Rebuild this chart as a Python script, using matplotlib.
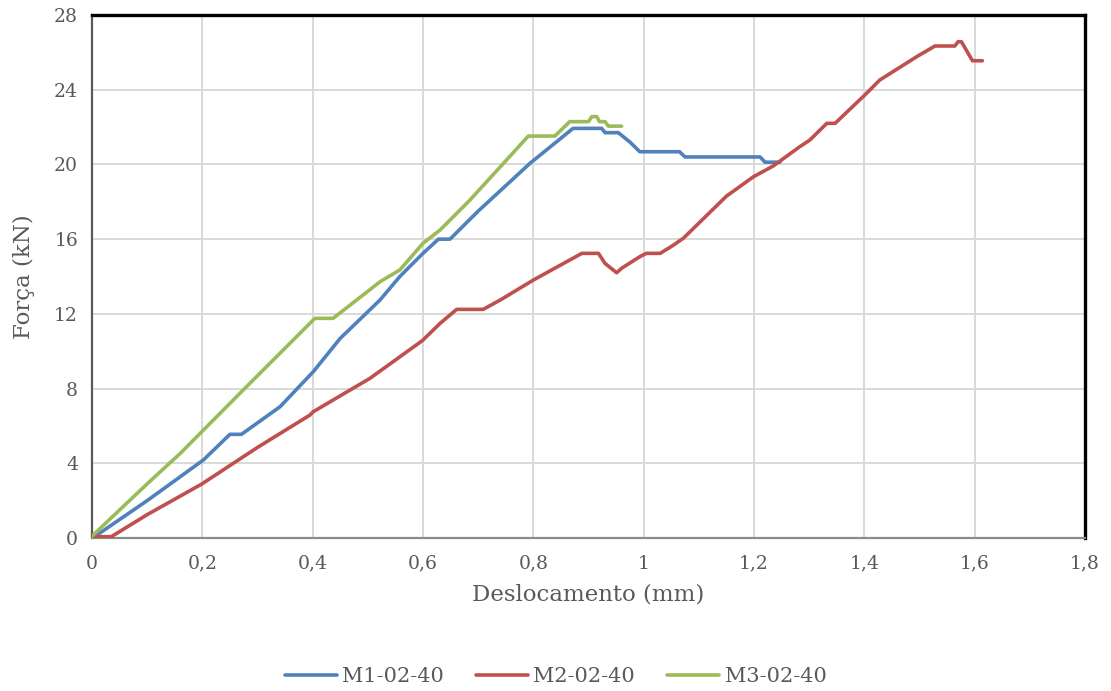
import matplotlib
matplotlib.use("Agg")
import matplotlib.pyplot as plt
from matplotlib.ticker import FuncFormatter

# Force-displacement curves (displacement in mm, force in kN)
m1_x = [0.0, 0.009, 0.10, 0.202, 0.250, 0.271, 0.341, 0.401, 0.450, 0.522, 0.558, 0.600,
        0.628, 0.649, 0.700, 0.794, 0.872, 0.924, 0.930, 0.954, 0.975, 0.993, 1.065,
        1.075, 1.211, 1.220, 1.247]
m1_y = [0.0, 0.16, 2.0, 4.18, 5.55, 5.55, 7.03, 8.90, 10.69, 12.74, 14.0, 15.24,
        16.0, 16.0, 17.5, 20.06, 21.93, 21.93, 21.7, 21.7, 21.2, 20.68, 20.68,
        20.40, 20.40, 20.12, 20.12]

m2_x = [0.0, 0.003, 0.035, 0.100, 0.199, 0.300, 0.395, 0.401, 0.504, 0.598, 0.600,
        0.631, 0.661, 0.709, 0.740, 0.800, 0.888, 0.918, 0.930, 0.951, 0.960, 0.993,
        1.005, 1.030, 1.054, 1.072, 1.150, 1.199, 1.235, 1.283, 1.301, 1.332, 1.347,
        1.401, 1.428, 1.495, 1.528, 1.564, 1.570, 1.576, 1.596, 1.614]
m2_y = [0.0, 0.07, 0.07, 1.25, 2.89, 4.85, 6.58, 6.76, 8.55, 10.55, 10.6,
        11.49, 12.24, 12.24, 12.74, 13.81, 15.24, 15.24, 14.7, 14.20, 14.44, 15.06,
        15.24, 15.24, 15.68, 16.05, 18.3, 19.34, 19.92, 20.95, 21.3, 22.2, 22.2,
        23.72, 24.52, 25.77, 26.34, 26.34, 26.57, 26.57, 25.55, 25.55]

m3_x = [0.0, 0.100, 0.160, 0.277, 0.401, 0.404, 0.437, 0.504, 0.522, 0.558,
        0.600, 0.631, 0.685, 0.791, 0.839, 0.866, 0.900, 0.906, 0.915, 0.920, 0.930,
        0.936, 0.960]
m3_y = [0.1, 2.9, 4.53, 8.01, 11.67, 11.76, 11.76, 13.3, 13.72, 14.35,
        15.78, 16.49, 18.09, 21.52, 21.52, 22.29, 22.29, 22.56, 22.56, 22.29, 22.29,
        22.05, 22.05]

series_names = ["M1-02-40", "M2-02-40", "M3-02-40"]
series_colors = ["#4f81bd", "#c0504d", "#9bbb59"]

x_ticks = [0, 0.2, 0.4, 0.6, 0.8, 1.0, 1.2, 1.4, 1.6, 1.8]
y_ticks = [0, 4, 8, 12, 16, 20, 24, 28]

plt.rcParams["font.family"] = ["DejaVu Serif"]
text_color = "#595959"

fig = plt.figure(figsize=(11.11, 6.91), dpi=100)
ax = fig.add_axes([92 / 1111, 1 - 538 / 691, (1085 - 92) / 1111, (538 - 15) / 691])

for xs, ys, name, col in zip([m1_x, m2_x, m3_x], [m1_y, m2_y, m3_y],
                             series_names, series_colors):
    ax.plot(xs, ys, color=col, lw=2.6, label=name, solid_capstyle="round",
            solid_joinstyle="round", zorder=3)

ax.set_xlim(0, 1.8)
ax.set_ylim(0, 28)
ax.set_xticks(x_ticks)
ax.set_yticks(y_ticks)


def comma_fmt(v, pos):
    s = f"{v:.1f}".rstrip("0").rstrip(".")
    return s.replace(".", ",")


ax.xaxis.set_major_formatter(FuncFormatter(comma_fmt))
ax.yaxis.set_major_formatter(FuncFormatter(lambda v, p: f"{int(v)}"))

ax.grid(True, color="#d9d9d9", lw=1.4, zorder=0)
ax.set_axisbelow(True)
ax.tick_params(length=0, labelsize=13.5, colors=text_color, pad=12)
ax.tick_params(axis="y", pad=10)

ax.spines["top"].set_color("black")
ax.spines["top"].set_linewidth(2.4)
ax.spines["right"].set_color("black")
ax.spines["right"].set_linewidth(2.4)
ax.spines["left"].set_color("#595959")
ax.spines["left"].set_linewidth(1.6)
ax.spines["bottom"].set_color("#8c8c8c")
ax.spines["bottom"].set_linewidth(1.6)

ax.set_xlabel("Deslocamento (mm)", fontsize=16.5, color=text_color, labelpad=8)
ax.set_ylabel("Força (kN)", fontsize=16.5, color=text_color, labelpad=14)

leg = fig.legend(loc="center", bbox_to_anchor=(0.5, 1 - 677 / 691), ncol=3,
                 frameon=False, fontsize=15, handlelength=2.5, columnspacing=1.55,
                 handletextpad=0.25)
for t in leg.get_texts():
    t.set_color(text_color)

fig.savefig("out.png", dpi=100)
